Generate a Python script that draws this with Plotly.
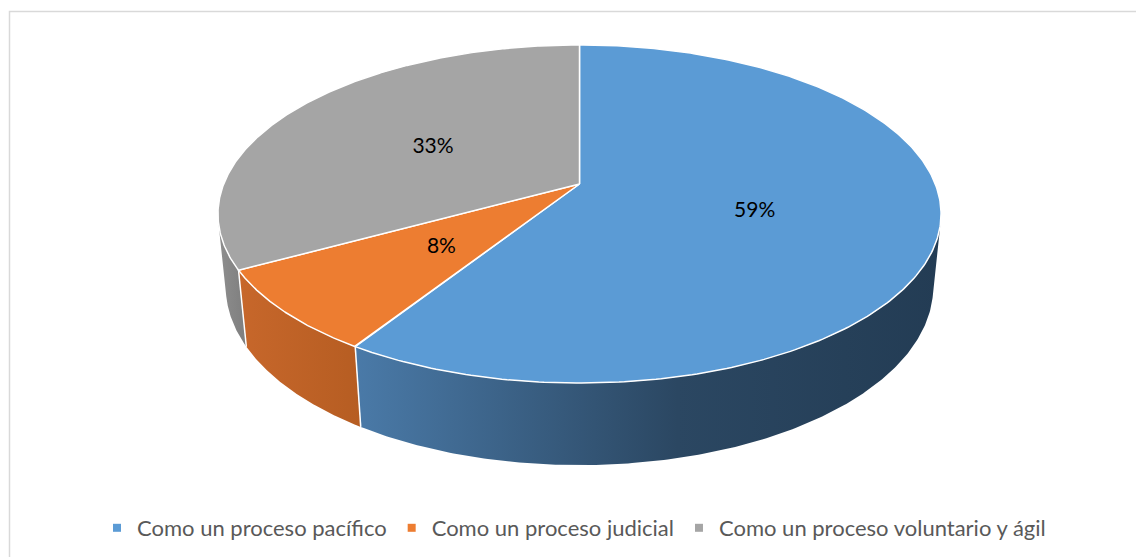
"""3D-looking pie (Excel style) drawn with filled scatter traces."""

import numpy as np
import plotly.graph_objects as go

# data
labels = [
    "Como un proceso pacífico",
    "Como un proceso judicial",
    "Como un proceso voluntario y ágil",
]
values = [59, 8, 33]

# styles
top_colors = ["#5B9BD5", "#ED7D31", "#A5A5A5"]
side_scales = [
    [[0, "#4A7AA8"], [0.55, "#2B4762"], [1, "#233C54"]],
    [[0, "#C7672B"], [1, "#B65D22"]],
    [[0, "#8E8E8E"], [1, "#7E7E7E"]],
]
LEGEND_TEXT = "#595959"
BORDER = "#D9D9D9"
FONT = "Lato, Carlito, sans-serif"

W, H = 1136, 557

# simple perspective camera for a unit-radius disc (pixels for CX, CY, FOCAL)
CX, CY = 579.5, 184.0
FOCAL = 1779.0
DIST = 5.0
ELEV = np.radians(27.4)
THICK = 0.2325
LABEL_R, LABEL_DY = 0.5, 4.0


def _project(theta, r=1.0, height=0.0):
    X = r * np.sin(theta)
    Z = r * np.cos(theta)
    yp = height * np.cos(ELEV) + Z * np.sin(ELEV)
    zp = -height * np.sin(ELEV) + Z * np.cos(ELEV)
    d = DIST + zp
    return CX + FOCAL * X / d, CY - FOCAL * yp / d


total = sum(values)
bounds = np.concatenate([[0], np.cumsum(values)]) / total * 2 * np.pi
# side wall is visible between the two silhouette generators
sil = np.arccos(-1 / (DIST * np.cos(ELEV)))
sil_lo, sil_hi = sil, 2 * np.pi - sil

fig = go.Figure()

# side walls
for i in range(len(values)):
    a, b = max(bounds[i], sil_lo), min(bounds[i + 1], sil_hi)
    if b <= a:
        continue
    t = np.linspace(a, b, 200)
    xt, yt = _project(t)
    xb, yb = _project(t[::-1], height=-THICK)
    xs = np.concatenate([xt, xb, xt[:1]])
    ys = np.concatenate([yt, yb, yt[:1]])
    fig.add_trace(go.Scatter(
        x=xs, y=ys, mode="lines", fill="toself", line={"width": 0},
        fillgradient={"type": "horizontal", "colorscale": side_scales[i]},
        hoverinfo="skip", showlegend=False,
    ))

# white separators on the wall
for ang in bounds[1:-1]:
    if sil_lo < ang < sil_hi:
        x0, y0 = _project(ang)
        x1, y1 = _project(ang, height=-THICK)
        fig.add_trace(go.Scatter(
            x=[x0, x1], y=[y0, y1], mode="lines",
            line={"color": "white", "width": 1.5},
            hoverinfo="skip", showlegend=False,
        ))

# top faces
for i in range(len(values)):
    t = np.linspace(bounds[i], bounds[i + 1], 300)
    xa, ya = _project(t)
    xs = np.concatenate([[CX], xa, [CX]])
    ys = np.concatenate([[CY], ya, [CY]])
    fig.add_trace(go.Scatter(
        x=xs, y=ys, mode="lines", fill="toself", fillcolor=top_colors[i],
        line={"color": "white", "width": 1.5},
        hoverinfo="skip", showlegend=False,
    ))

# percentage labels
mids = (bounds[:-1] + bounds[1:]) / 2
lx, ly = _project(mids, r=LABEL_R)
fig.add_trace(go.Scatter(
    x=lx, y=ly + LABEL_DY, mode="text",
    text=[f"{v / total * 100:.0f}%" for v in values],
    textfont={"family": FONT, "size": 21, "color": "#000000"},
    hoverinfo="skip", showlegend=False,
))

# legend entries
for lab, col in zip(labels, top_colors):
    fig.add_trace(go.Scatter(
        x=[None], y=[None], mode="markers", name=lab,
        marker={"symbol": "square", "size": 8, "color": col},
    ))

fig.add_shape(
    type="rect", xref="paper", yref="paper",
    x0=9.5 / W, y0=1 - 11.5 / H, x1=1.05, y1=-0.05,
    line={"color": BORDER, "width": 1.5}, layer="below",
)

fig.update_layout(
    width=W, height=H,
    margin={"l": 0, "r": 0, "t": 0, "b": 0},
    paper_bgcolor="white", plot_bgcolor="white",
    xaxis={"range": [0, W], "visible": False, "fixedrange": True},
    yaxis={"range": [H, 0], "visible": False, "fixedrange": True},
    showlegend=True,
    legend={
        "orientation": "h", "x": 97 / W, "xanchor": "left",
        "y": 1 - 528 / H, "yanchor": "middle",
        "font": {"family": FONT, "size": 22, "color": LEGEND_TEXT},
        "bgcolor": "rgba(0,0,0,0)",
    },
)

# page body has a default 8px margin; drop it so the figure sits at (0, 0)
fig.write_html(
    "out.html",
    config={"displayModeBar": False},
    post_script="document.body.style.margin='0';",
)
